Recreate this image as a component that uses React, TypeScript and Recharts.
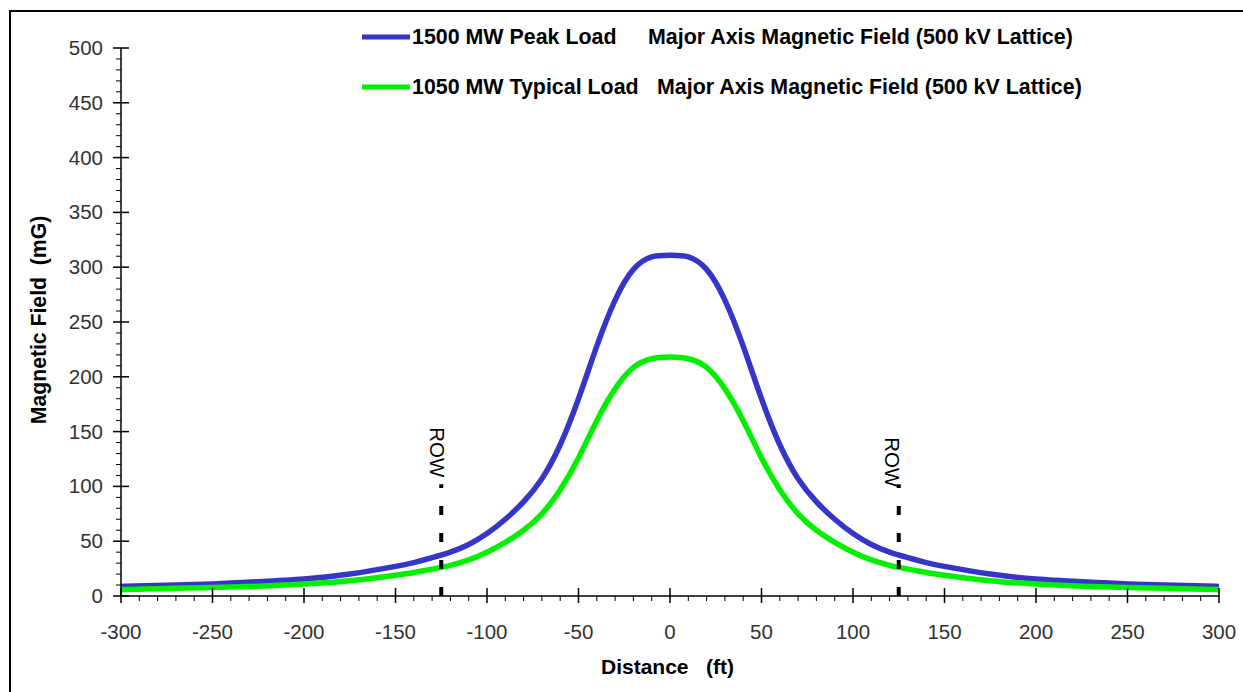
import React from 'react';
import { LineChart, Line, XAxis, YAxis, ReferenceLine, Customized } from 'recharts';

// Distance from centerline (ft)
const distances = [
  -300, -275, -250, -225, -200, -175, -150, -140, -130, -120, -110, -100, -90, -80, -70, -60, -50, -40, -30, -20, -10,
  0,
  10, 20, 30, 40, 50, 60, 70, 80, 90, 100, 110, 120, 130, 140, 150, 175, 200, 225, 250, 275, 300,
];

// 1500 MW Peak Load (mG)
const peakLoad = [
  8.7, 9.8, 11, 13, 15.5, 20, 27, 30.5, 35, 40, 47, 57, 70, 86, 107, 138, 180, 228, 270, 298, 309.5,
  311,
  309.5, 298, 270, 228, 180, 138, 107, 86, 70, 57, 47, 40, 35, 30.5, 27, 20, 15.5, 13, 11, 9.8, 8.7,
];

// 1050 MW Typical Load (mG)
const typicalLoad = [
  5.8, 6.8, 7.7, 9, 11, 14, 19, 21.5, 24.5, 28, 33, 40, 49, 60, 75, 97, 126, 160, 189, 208.5, 216.5,
  218,
  216.5, 208.5, 189, 160, 126, 97, 75, 60, 49, 40, 33, 28, 24.5, 21.5, 19, 14, 11, 9, 7.7, 6.8, 5.8,
];

const seriesKeys = ['peak', 'typical'];
const seriesLoads = ['1500 MW Peak Load', '1050 MW Typical Load'];
const seriesDesc = 'Major Axis Magnetic Field (500 kV Lattice)';
const seriesColors = ['#3535c8', '#00f000'];

const xMajorTicks = [-300, -250, -200, -150, -100, -50, 0, 50, 100, 150, 200, 250, 300];
const yMajorTicks = [0, 50, 100, 150, 200, 250, 300, 350, 400, 450, 500];
const xAllTicks: number[] = [];
for (let v = -300; v <= 300; v += 10) xAllTicks.push(v);
const yAllTicks: number[] = [];
for (let v = 0; v <= 500; v += 10) yAllTicks.push(v);

const rowMarkers = [-125, 125];
const rowMarkerTop = 102;

const FONT = "'Liberation Sans', Arial, Helvetica, sans-serif";

const XTick = (props: any) => {
  const { x, y, payload } = props;
  const v = payload.value;
  if (xMajorTicks.includes(v)) {
    return (
      <g>
        <line x1={x} x2={x} y1={y - 8} y2={y + 7} stroke="#000" strokeWidth={1.5} />
        <text x={x} y={y + 43} textAnchor="middle" fontSize={20.5} fill="#333" fontFamily={FONT}>
          {v}
        </text>
      </g>
    );
  }
  return <line x1={x} x2={x} y1={y} y2={y + 5} stroke="#000" strokeWidth={1} />;
};

const YTick = (props: any) => {
  const { x, y, payload } = props;
  const v = payload.value;
  if (yMajorTicks.includes(v)) {
    return (
      <g>
        <line x1={x - 8} x2={x + 8} y1={y} y2={y} stroke="#000" strokeWidth={1.5} />
        <text x={x - 18} y={y + 7} textAnchor="end" fontSize={20.5} fill="#333" fontFamily={FONT}>
          {v}
        </text>
      </g>
    );
  }
  return <line x1={x - 5} x2={x} y1={y} y2={y} stroke="#000" strokeWidth={1} />;
};

const rowLabel = (dx: number, dy: number) => (props: any) => {
  const vb = props.viewBox || {};
  const x = vb.x !== undefined ? vb.x : vb.x1;
  const y = vb.y !== undefined ? vb.y : Math.min(vb.y1, vb.y2);
  return (
    <text
      transform={`translate(${x + dx},${y + dy}) rotate(90)`}
      fontSize={20.5}
      fill="#000"
      fontFamily={FONT}
    >
      ROW
    </text>
  );
};

const Overlay = () => (
  <g fontFamily={FONT}>
    {seriesLoads.map((name, i) => (
      <g key={name}>
        <line x1={362} x2={410} y1={37 + i * 50} y2={37 + i * 50} stroke={seriesColors[i]} strokeWidth={5} />
        <text x={412} y={44 + i * 50} fontSize={21.4} fontWeight="bold" fill="#000">
          {name}
        </text>
        <text x={i === 0 ? 648 : 657} y={44 + i * 50} fontSize={21.4} fontWeight="bold" fill="#000">
          {seriesDesc}
        </text>
      </g>
    ))}
    <text
      transform="translate(46,320) rotate(-90)"
      textAnchor="middle"
      fontSize={21.2}
      fontWeight="bold"
      fill="#000"
      style={{ whiteSpace: 'pre' }}
    >
      {'Magnetic Field  (mG)'}
    </text>
    <text x={601} y={674} fontSize={21} fontWeight="bold" fill="#000">
      Distance
    </text>
    <text x={706} y={674} fontSize={21} fontWeight="bold" fill="#000">
      (ft)
    </text>
  </g>
);

export default function App() {
  const data = distances.map((d, i) => ({ distance: d, peak: peakLoad[i], typical: typicalLoad[i] }));
  return (
    <div style={{ position: 'fixed', left: 0, top: 0, width: 1243, height: 692, background: '#fff' }}>
      <div
        style={{
          position: 'absolute',
          left: 9,
          top: 10,
          right: 0,
          bottom: 0,
          borderLeft: '2px solid #000',
          borderTop: '2px solid #000',
        }}
      />
      <LineChart
        width={1243}
        height={692}
        data={data}
        margin={{ top: 48, right: 24, left: 0, bottom: 0 }}
        style={{ position: 'absolute', left: 0, top: 0 }}
      >
        <XAxis
          dataKey="distance"
          type="number"
          domain={[-300, 300]}
          ticks={xAllTicks}
          interval={0}
          tickLine={false}
          tickSize={0}
          tickMargin={0}
          height={96}
          axisLine={{ stroke: '#000', strokeWidth: 1.5 }}
          tick={<XTick />}
        />
        <YAxis
          type="number"
          domain={[0, 500]}
          ticks={yAllTicks}
          interval={0}
          tickLine={false}
          tickSize={0}
          tickMargin={0}
          width={121}
          axisLine={{ stroke: '#000', strokeWidth: 1.5 }}
          tick={<YTick />}
        />
        {seriesKeys.map((k, i) => (
          <Line
            key={k}
            dataKey={k}
            type="natural"
            stroke={seriesColors[i]}
            strokeWidth={5.5}
            dot={false}
            activeDot={false}
            isAnimationActive={false}
          />
        ))}
        {rowMarkers.map((m, i) => (
          <ReferenceLine
            key={m}
            segment={[
              { x: m, y: 0 },
              { x: m, y: rowMarkerTop },
            ]}
            stroke="#000"
            strokeWidth={4}
            strokeDasharray="9 18"
            label={i === 0 ? rowLabel(-11, -57) : rowLabel(-14, -47)}
          />
        ))}
        <Customized component={Overlay} />
      </LineChart>
    </div>
  );
}
